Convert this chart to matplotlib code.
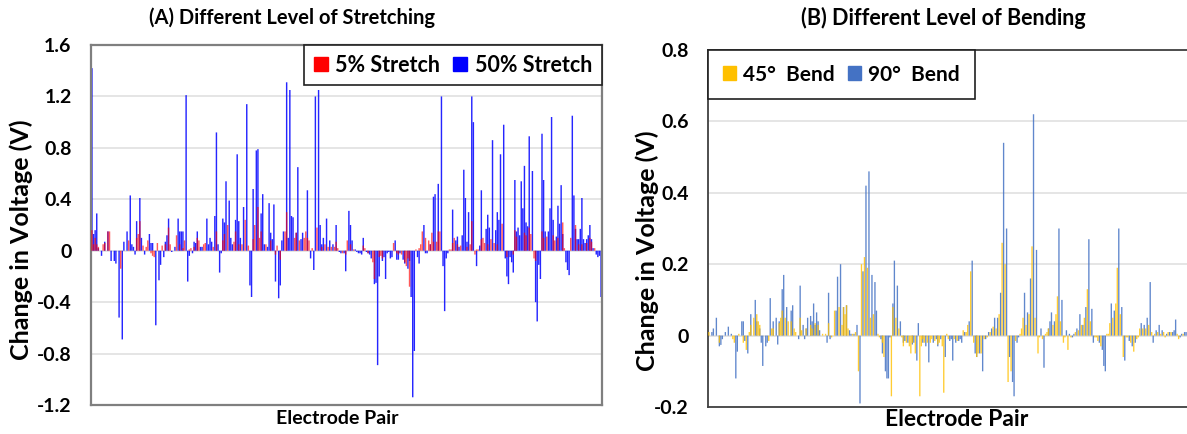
import matplotlib
matplotlib.use("Agg")
import matplotlib.pyplot as plt
from matplotlib.patches import Patch
import numpy as np

plt.rcParams['font.family'] = ['Lato', 'DejaVu Sans']
plt.rcParams['font.weight'] = 'bold'

# ---------------- Panel A data: per electrode pair ----------------
stretch5 = [
    0.16, 0.05, 0.10, 0.05, 0.03, 0.0, 0.0, 0.05, 0.06, 0.0,
    0.15, 0.15, 0.0, 0.0, 0.0, 0.0, 0.0, 0.0, -0.14, 0.0,
    0.0, 0.0, 0.0, 0.08, 0.0, 0.0, 0.0, 0.0, 0.10, 0.13,
    0.23, 0.0, 0.04, 0.0, 0.03, 0.08, 0.0, -0.02, -0.04, -0.05,
    0.0, 0.06, 0.0, 0.0, 0.04, 0.0, 0.05, 0.0, 0.18, 0.05,
    0.0, 0.0, 0.0, 0.12, 0.0, 0.05, 0.0, 0.02, 0.08, 0.0,
    0.0, 0.01, 0.02, 0.0, 0.03, 0.0, 0.10, 0.08, 0.0, 0.0,
    0.05, 0.06, 0.0, 0.0, 0.0, 0.0, 0.03, 0.0, 0.15, 0.0,
    0.0, 0.0, 0.08, 0.13, 0.0, 0.20, 0.0, 0.0, 0.0, 0.07,
    0.15, 0.0, 0.05, 0.0, 0.05, 0.0, 0.24, 0.0, 0.04, 0.0,
    0.0, 0.09, 0.20, 0.0, 0.34, 0.10, 0.15, 0.0, 0.0, 0.05,
    0.0, 0.0, 0.08, 0.0, 0.0, -0.03, 0.04, 0.0, -0.07, 0.0,
    0.0, 0.15, 0.30, 0.0, 0.0, 0.0, 0.0, 0.10, 0.14, 0.0,
    0.08, 0.0, 0.0, 0.10, 0.15, 0.10, 0.08, 0.0, 0.02, 0.0,
    0.0, 0.18, 0.0, 0.0, 0.03, 0.0, 0.05, 0.0, 0.03, 0.0,
    0.03, 0.0, 0.03, 0.07, 0.02, 0.0, 0.0, -0.02, 0.0, -0.03,
    0.08, 0.0,
    0.05, 0.0, 0.01, 0.0, 0.0, 0.0, 0.0, 0.0, 0.04, 0.02,
    0.0, -0.02, 0.0, 0.0, -0.09, -0.22, 0.0, 0.0, -0.05, -0.04,
    -0.06, 0.0, 0.0, 0.0, 0.0, 0.0, 0.0, 0.06, 0.0, -0.02,
    -0.03, 0.0, -0.03, 0.0, -0.09, -0.12, -0.06, -0.28, 0.0, 0.0,
    0.0, 0.01, 0.0, 0.02, 0.05, 0.15, 0.0, 0.10, 0.0, 0.08,
    0.05, 0.14, 0.07, 0.0, 0.07, 0.15, 0.15, 0.0, 0.0, 0.0,
    0.0, 0.0, 0.01, 0.01, 0.06, 0.10, 0.0, 0.05, 0.0, 0.04,
    0.0, 0.0, 0.0, 0.03, 0.0, 0.05, 0.23, 0.0, -0.03, 0.01,
    0.01, 0.0, 0.09, 0.10, 0.06, 0.0, 0.05, 0.0, 0.09, 0.0,
    0.06, 0.0, 0.05, 0.0, 0.0, 0.21, 0.0, 0.0, -0.05, 0.0,
    0.0, 0.0, -0.03, 0.16, 0.11, 0.0, 0.0, 0.0, 0.0, 0.14,
    0.12, 0.0, 0.18, 0.13, 0.0, -0.06, -0.08, 0.0, 0.0, 0.0,
    0.15, 0.10, 0.0, 0.11, 0.0, 0.0, 0.0, 0.12, 0.08, 0.0,
    0.10, 0.0, 0.0, 0.22, 0.02, 0.0, 0.0, 0.0, 0.10, 0.0,
    0.0, 0.20, 0.0, 0.05, 0.0, 0.05, 0.0, 0.0, 0.06, 0.0,
    0.10, 0.07, 0.0, 0.02, 0.0, 0.0, 0.0, 0.0,
]
stretch50 = [
    1.42, 0.13, 0.16, 0.29, 0.02, 0.0, -0.04, 0.0, 0.07, 0.0,
    0.15, 0.0, -0.08, 0.0, -0.08, -0.10, 0.0, -0.52, 0.0, -0.69,
    0.07, 0.0, 0.15, 0.0, 0.43, 0.05, 0.03, -0.03, 0.23, 0.0,
    0.41, 0.10, 0.0, -0.03, 0.0, 0.0, 0.13, 0.06, 0.06, 0.0,
    -0.58, 0.0, -0.23, -0.11, 0.0, -0.05, 0.07, 0.12, 0.25, 0.0,
    -0.01, 0.0, 0.03, 0.0, 0.25, 0.15, 0.15, 0.15, 0.0, 1.21,
    -0.24, -0.04, 0.0, -0.02, 0.07, 0.06, 0.15, 0.0, 0.03, 0.03,
    0.0, 0.0, 0.25, 0.05, 0.10, 0.07, 0.0, 0.27, 0.92, 0.05,
    -0.17, -0.02, 0.25, 0.22, 0.54, 0.0, 0.39, 0.10, 0.05, 0.0,
    0.24, 0.75, 0.23, 0.10, 0.0, 0.34, 0.0, 1.14, 0.0, -0.27,
    -0.36, 0.48, 0.0, 0.78, 0.79, 0.0, 0.29, 0.44, 0.05, 0.0,
    0.03, 0.37, 0.14, 0.09, 0.36, -0.24, 0.0, -0.37, -0.27, 0.08,
    0.15, 0.0, 1.31, 0.10, 1.25, 0.27, 0.26, 0.0, 0.14, 0.65,
    0.0, 0.09, 0.14, 0.0, 0.0, 0.47, 0.0, -0.06, 0.0, -0.15,
    1.20, 0.0, 1.25, 0.20, 0.05, 0.10, 0.0, 0.25, 0.0, 0.08,
    0.0, 0.05, 0.0, 0.20, 0.0, -0.01, -0.02, 0.0, -0.02, -0.16,
    0.0, 0.31,
    0.20, 0.08, 0.0, 0.01, -0.01, -0.02, -0.02, -0.03, 0.10, 0.0,
    -0.01, -0.02, -0.03, -0.06, 0.0, -0.26, -0.25, -0.89, -0.20, 0.0,
    -0.08, -0.05, -0.22, -0.02, -0.01, -0.06, -0.05, 0.0, 0.08, -0.07,
    -0.07, -0.02, 0.0, -0.07, -0.10, 0.0, -0.14, -0.08, -0.36, -1.14,
    -0.78, 0.0, -0.05, -0.10, 0.0, 0.0, 0.20, -0.02, -0.02, 0.0,
    0.05, 0.0, 0.42, 0.44, 0.0, 0.52, 0.0, 1.20, -0.12, -0.47,
    -0.06, -0.02, 0.0, 0.0, 0.32, 0.0, 0.08, 0.11, 0.03, 0.0,
    0.12, 0.63, 0.41, 0.07, 0.30, 0.0, 1.20, 1.00, 0.0, -0.12,
    0.0, 0.04, 0.47, 0.0, 0.0, 0.17, 0.28, 0.18, 0.0, 0.86,
    0.0, 0.16, 0.30, 0.24, 0.75, 0.0, 0.98, -0.06, -0.20, -0.26,
    -0.05, -0.09, -0.17, 0.55, 0.15, 0.18, 0.12, 0.54, 0.33, 0.66,
    0.22, 0.19, 0.89, 0.0, 0.62, 0.0, -0.40, -0.55, -0.11, -0.22,
    0.91, 0.55, 0.15, 0.0, 0.15, 0.33, 1.04, 0.24, 0.0, 0.11,
    0.35, 0.21, 0.51, 0.13, 0.0, -0.09, -0.15, -0.19, 0.0, 1.05,
    0.43, 0.17, 0.09, 0.09, 0.17, 0.41, 0.09, 0.06, 0.09, 0.12,
    0.20, 0.09, 0.02, 0.0, -0.03, -0.05, -0.04, -0.36,
]

# ---------------- Panel B data: per electrode pair ----------------
bend45 = [
    0.01, 0.0, 0.0, 0.0, 0.0, 0.0, 0.0, -0.02, 0.0, 0.0,
    0.0, 0.0, 0.0, 0.0, 0.0, 0.0, -0.01, -0.02, 0.0, 0.0,
    0.005, 0.0, 0.0, -0.02, 0.0, -0.04, 0.0, 0.01, 0.03, 0.0,
    0.05, 0.0, 0.06, 0.04, 0.03, 0.0, 0.0, 0.0, 0.0, 0.0,
    -0.015, 0.0, 0.02, 0.02, 0.0, 0.0, 0.0, 0.035, 0.05, 0.07,
    0.0, 0.05, 0.0, 0.04, 0.0, 0.04, 0.0, 0.02, 0.01, 0.0,
    0.0, 0.05, 0.015, 0.0, 0.0, 0.02, 0.0, 0.0, 0.03, 0.02,
    0.0, 0.035, 0.0, 0.03, 0.0, 0.0, 0.005, 0.0, 0.005, 0.0,
    0.035, 0.0, -0.005, 0.0, 0.07, 0.0,
    0.0, 0.08, 0.0, 0.03, 0.08, 0.06, 0.085, 0.02, 0.0, 0.0,
    0.005, 0.0, 0.01, 0.0, -0.10, 0.0, 0.20, 0.0, 0.22, 0.0,
    0.19, 0.0, 0.05, 0.0, 0.06, 0.0, 0.0, 0.005, -0.005, 0.0,
    -0.02, -0.06, 0.0, 0.0, 0.0, 0.0, -0.17, 0.08, 0.0, 0.05,
    0.0, 0.02, 0.0, -0.005, -0.03, 0.0, -0.02, 0.0, -0.03, -0.05,
    -0.02, 0.0, -0.05, 0.0, 0.0, -0.17, -0.03, -0.01, -0.02, 0.0,
    -0.02, 0.0, -0.02, -0.01, 0.0, -0.015, 0.0, -0.025, -0.02, 0.0,
    -0.03, -0.16, 0.0, 0.005, -0.01, 0.0, 0.0, 0.0, -0.01, 0.0,
    -0.015, 0.0, 0.0, 0.0, 0.015, 0.0, 0.01, 0.03, 0.0, 0.18,
    0.0, -0.02, 0.0, -0.06, -0.05, 0.0, -0.05, 0.0, -0.01, 0.0,
    -0.005, 0.0, 0.01, 0.0, 0.025, 0.0, 0.02, 0.0, 0.06, 0.0,
    0.26, 0.0, 0.20, 0.0, -0.13, 0.0, -0.10, 0.0, 0.0, -0.015,
    0.0, 0.0, 0.005, 0.02, 0.05, 0.0, 0.03, 0.0, 0.06, 0.0,
    0.25, 0.0, 0.05, 0.0, -0.05, -0.005, 0.0, -0.01, 0.0, 0.005,
    0.01, 0.02, 0.0, 0.0, 0.03, 0.0, 0.06, 0.11, 0.0, 0.04,
    0.0, -0.02, -0.005, 0.0, -0.04, 0.0, -0.005, 0.0, 0.0, 0.01,
    0.0, 0.015, 0.0, 0.03, 0.0, 0.05, 0.0, 0.13, 0.0, 0.04,
    0.0, 0.0, -0.005, -0.005, -0.015, 0.0, -0.03, 0.0, 0.0, 0.0,
    0.005, 0.005, 0.035, 0.0, 0.05, 0.0, 0.09, 0.19, 0.0, 0.06,
    0.0, -0.06, 0.0, -0.005, -0.005, 0.0, -0.02, 0.0, -0.045, 0.0,
    -0.01, -0.005, 0.02, 0.0, 0.02, 0.0, 0.02, 0.0, 0.03, 0.0,
    0.01, 0.0, 0.005, 0.0, 0.01, 0.0, 0.005, 0.0, 0.01, -0.005,
    0.0, 0.01, 0.0, 0.01, 0.0, 0.0, 0.0, 0.005, -0.01, 0.0,
    0.0, 0.005, 0.0, 0.0,
]
bend90 = [
    0.0, 0.0, 0.01, 0.02, 0.0, 0.05, 0.0, -0.03, -0.026, -0.01,
    0.0, 0.01, 0.0, 0.025, 0.0, 0.005, 0.0, 0.0, -0.12, -0.045,
    0.0, 0.0, 0.04, 0.04, -0.015, 0.0, -0.05, 0.0, 0.06, 0.0,
    0.0, 0.10, 0.04, 0.0, 0.02, -0.02, -0.085, 0.0, -0.03, -0.02,
    0.0, 0.105, 0.0, 0.04, 0.0, 0.05, -0.025, 0.04, 0.0, 0.13,
    0.17, 0.0, 0.08, 0.0, 0.0, 0.07, 0.085, 0.0, 0.0, 0.0,
    -0.01, 0.14, 0.0, 0.03, -0.01, 0.02, 0.05, 0.0, 0.055, 0.04,
    0.09, 0.03, 0.065, 0.04, 0.015, 0.0, 0.0, 0.0, 0.0, -0.02,
    0.12, -0.01, 0.0, 0.0, 0.0, 0.07,
    0.165, 0.0, 0.20, 0.0, 0.08, 0.0, 0.085, 0.0, 0.015, 0.005,
    0.0, 0.005, 0.0, 0.03, 0.0, -0.19, 0.0, 0.18, 0.0, 0.42,
    0.0, 0.46, 0.0, 0.17, 0.0, 0.15, 0.07, 0.0, 0.0, -0.01,
    -0.05, 0.0, -0.10, -0.12, -0.12, -0.005, 0.0, 0.09, 0.21, 0.0,
    0.14, 0.0, 0.04, 0.0, -0.02, -0.015, 0.0, -0.02, 0.0, 0.0,
    -0.025, -0.02, 0.0, -0.07, 0.035, 0.0, 0.0, -0.02, 0.0, -0.03,
    0.0, -0.075, 0.0, 0.0, -0.02, 0.0, -0.01, -0.03, 0.0, -0.01,
    0.0, 0.0, -0.06, 0.0, 0.0, -0.015, -0.01, -0.07, 0.0, -0.02,
    0.0, -0.015, -0.01, -0.02, 0.0, 0.01, 0.0, 0.0, 0.04, 0.0,
    0.21, 0.0, -0.05, -0.06, 0.0, -0.05, 0.0, -0.10, 0.0, -0.01,
    0.0, 0.01, 0.0, 0.02, 0.0, 0.05, 0.0, 0.05, 0.0, 0.12,
    0.0, 0.54, 0.0, 0.30, 0.0, -0.06, 0.0, -0.13, -0.17, 0.0,
    -0.02, -0.005, 0.0, 0.0, 0.0, 0.12, 0.0, 0.065, 0.0, 0.16,
    0.0, 0.62, 0.0, 0.24, 0.0, 0.0, 0.02, 0.0, -0.09, 0.0,
    0.0, 0.02, 0.04, 0.065, 0.0, 0.04, 0.0, 0.0, 0.30, 0.0,
    0.10, 0.0, 0.0, 0.015, 0.0, 0.005, 0.0, -0.005, 0.005, 0.0,
    0.02, 0.0, 0.06, 0.0, 0.03, 0.0, 0.08, 0.0, 0.27, 0.0,
    0.075, -0.02, 0.0, 0.0, 0.0, -0.02, 0.0, -0.04, -0.085, -0.10,
    0.0, 0.0, 0.0, 0.09, 0.0, 0.07, 0.0, 0.0, 0.30, 0.0,
    0.08, 0.0, -0.07, 0.0, 0.0, -0.015, 0.0, -0.03, 0.0, -0.02,
    0.0, 0.0, 0.0, 0.035, 0.0, 0.03, 0.0, 0.05, 0.0, 0.15,
    0.0, -0.02, 0.0, 0.015, 0.0, 0.03, 0.0, 0.015, 0.0, 0.0,
    0.005, 0.0, 0.01, 0.0, 0.01, 0.015, 0.045, 0.0, 0.0, -0.005,
    0.005, 0.0, 0.01, 0.01,
]

yticks_a = [-1.2, -0.8, -0.4, 0, 0.4, 0.8, 1.2, 1.6]
ytick_labels_a = ['-1.2', '-0.8', '-0.4', '0', '0.4', '0.8', '1.2', '1.6']
yticks_b = [-0.2, 0, 0.2, 0.4, 0.6, 0.8]
ytick_labels_b = ['-0.2', '0', '0.2', '0.4', '0.6', '0.8']

W, H = 1187, 434
fig = plt.figure(figsize=(W / 100, H / 100), dpi=100)


def rect(l, t, r, b):
    return [l / W, 1 - b / H, (r - l) / W, (b - t) / H]


def fx(x):
    return x / W


def fy(y):
    return 1 - y / H


# ---------------- Panel A ----------------
axA = fig.add_axes(rect(91, 45, 602, 405))
na = min(len(stretch5), len(stretch50))
xa = np.arange(na)
barsA50 = axA.bar(xa, stretch50[:na], width=0.9, color='#0000FF', alpha=0.85,
                  linewidth=0, zorder=2)
barsA5 = axA.bar(xa, stretch5[:na], width=0.9, color='#FF0000', alpha=0.65,
                 linewidth=0, zorder=3)
for b in list(barsA50) + list(barsA5):
    b.set_snap(False)
axA.set_xlim(-0.6, na - 0.4)
axA.set_ylim(-1.2, 1.6)
axA.set_yticks(yticks_a)
axA.set_yticklabels(ytick_labels_a)
axA.set_xticks([])
axA.yaxis.grid(True, color='#e0e0e0', linewidth=1.2, zorder=0)
axA.set_axisbelow(True)
axA.tick_params(axis='y', length=0, pad=14, labelsize=14)
for s in axA.spines.values():
    s.set_color('#7f7f7f')
    s.set_linewidth(1.6)
legA = axA.legend(handles=[Patch(color='#FF0000', label='5% Stretch'),
                           Patch(color='#0000FF', label='50% Stretch')],
                  loc='upper right', bbox_to_anchor=(1.0, 1.0), borderaxespad=0,
                  ncol=2, fancybox=False, framealpha=1, edgecolor='#202020',
                  prop={'weight': 'bold', 'size': 15.5}, handlelength=0.65,
                  handleheight=0.65, handletextpad=0.35, columnspacing=0.6,
                  borderpad=0.45)
legA.get_frame().set_linewidth(1.2)

# ---------------- Panel B ----------------
axB = fig.add_axes(rect(708, 50, 1187, 407))
nb = min(len(bend45), len(bend90))
xb = np.arange(nb)
barsB90 = axB.bar(xb, bend90[:nb], width=0.9, color='#4472C4', alpha=0.85,
                  linewidth=0, zorder=2)
barsB45 = axB.bar(xb, bend45[:nb], width=0.9, color='#FFC000', alpha=0.8,
                  linewidth=0, zorder=3)
for b in list(barsB90) + list(barsB45):
    b.set_snap(False)
axB.set_xlim(-0.6, nb - 0.4)
axB.set_ylim(-0.2, 0.8)
axB.set_yticks(yticks_b)
axB.set_yticklabels(ytick_labels_b)
axB.set_xticks([])
axB.yaxis.grid(True, color='#e0e0e0', linewidth=1.2, zorder=0)
axB.set_axisbelow(True)
axB.tick_params(axis='y', length=0, pad=14, labelsize=14)
for s in axB.spines.values():
    s.set_color('#404040')
    s.set_linewidth(1.3)
axB.spines['right'].set_visible(False)
legB = axB.legend(handles=[Patch(color='#FFC000', label='45°  Bend'),
                           Patch(color='#4472C4', label='90°  Bend')],
                  loc='upper left', bbox_to_anchor=(0.0, 1.0), borderaxespad=0,
                  ncol=2, fancybox=False, framealpha=1, edgecolor='#202020',
                  prop={'weight': 'bold', 'size': 15}, handlelength=0.65,
                  handleheight=0.65, handletextpad=0.35, columnspacing=0.6,
                  borderpad=0.7)
legB.get_frame().set_linewidth(1.2)

# ---------------- Texts ----------------
fig.text(fx(292), fy(18), '(A) Different Level of Stretching', ha='center', va='center',
         fontsize=14.5, fontweight='bold')
fig.text(fx(943), fy(18), '(B) Different Level of Bending', ha='center', va='center',
         fontsize=15.5, fontweight='bold')
fig.text(fx(337), fy(419), 'Electrode Pair', ha='center', va='center',
         fontsize=14, fontweight='bold')
fig.text(fx(957), fy(420), 'Electrode Pair', ha='center', va='center',
         fontsize=16.5, fontweight='bold')
fig.text(fx(21), fy(240), 'Change in Voltage (V)', ha='center', va='center',
         rotation=90, fontsize=18, fontweight='bold')
fig.text(fx(647), fy(251), 'Change in Voltage (V)', ha='center', va='center',
         rotation=90, fontsize=18, fontweight='bold')

fig.savefig('out.png', dpi=100)
